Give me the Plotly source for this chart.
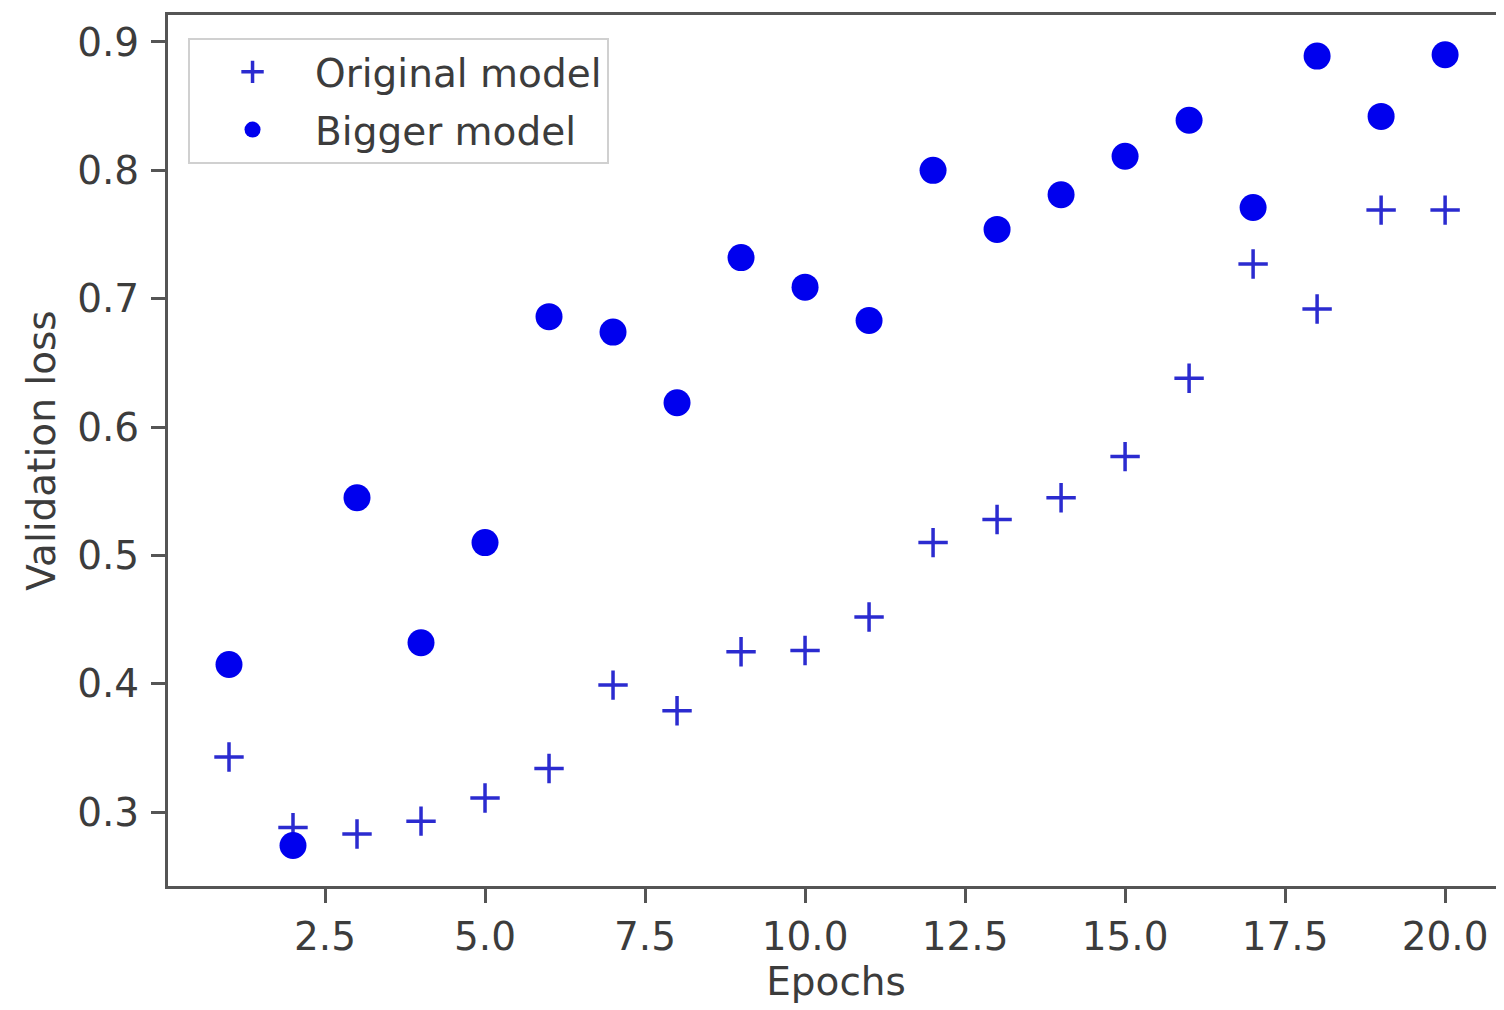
import plotly.graph_objects as go

epochs = list(range(1, 21))
original_loss = [0.343, 0.288, 0.283, 0.293, 0.311, 0.334, 0.399, 0.379, 0.425, 0.426,
                 0.452, 0.510, 0.528, 0.545, 0.577, 0.638, 0.727, 0.692, 0.769, 0.769]
bigger_loss = [0.415, 0.274, 0.545, 0.432, 0.510, 0.686, 0.674, 0.619, 0.732, 0.709,
               0.683, 0.800, 0.754, 0.781, 0.811, 0.839, 0.771, 0.889, 0.842, 0.890]
x_ticks = [2.5, 5.0, 7.5, 10.0, 12.5, 15.0, 17.5, 20.0]
y_ticks = [0.3, 0.4, 0.5, 0.6, 0.7, 0.8, 0.9]

FONT = "DejaVu Sans"
TXT = "#3c3c3c"
SPINE = "#555555"
FS = 39

fig = go.Figure()
fig.add_trace(go.Scatter(
    x=epochs, y=original_loss, mode="markers", name="Original model",
    legendgroup="a",
    marker=dict(symbol="cross-thin", size=21, color="#2b2bd0",
                line=dict(width=3.5, color="#2b2bd0")),
))
fig.add_trace(go.Scatter(
    x=epochs, y=bigger_loss, mode="markers", name="Bigger model",
    legendgroup="b",
    marker=dict(symbol="circle", size=27, color="#0000ee", line=dict(width=0)),
))

# page body adds an 8px offset; figure sized/margined to compensate
fig.update_layout(
    width=1496, height=1002,
    margin=dict(l=160, r=0, t=7, b=124),
    paper_bgcolor="white", plot_bgcolor="white",
    font=dict(family=FONT, size=FS, color=TXT),
    showlegend=True,
    legend=dict(
        x=0.015, y=0.9736, xanchor="left", yanchor="top",
        bgcolor="rgba(255,255,255,0.8)", bordercolor="#d0d0d0", borderwidth=2,
        font=dict(family=FONT, size=FS, color=TXT),
        traceorder="grouped", tracegroupgap=4,
        itemsizing="trace", itemwidth=115,
    ),
)
fig.update_xaxes(
    range=[0.047, 20.92], tickvals=x_ticks,
    ticktext=[f"{v:.1f}" for v in x_ticks],
    showgrid=False, zeroline=False,
    showline=True, linecolor=SPINE, linewidth=3, mirror=True,
    ticks="outside", ticklen=14, tickwidth=3, tickcolor=SPINE,
    tickfont=dict(family=FONT, size=FS, color=TXT),
    title=dict(text="Epochs", font=dict(family=FONT, size=FS, color=TXT), standoff=8),
)
fig.update_yaxes(
    range=[0.2425, 0.921], tickvals=y_ticks,
    ticktext=[f"{v:.1f}" for v in y_ticks],
    showgrid=False, zeroline=False,
    showline=True, linecolor=SPINE, linewidth=3, mirror=False,
    ticks="outside", ticklen=14, tickwidth=3, tickcolor=SPINE,
    ticklabelstandoff=4,
    tickfont=dict(family=FONT, size=FS, color=TXT),
    title=dict(text="Validation loss", font=dict(family=FONT, size=FS, color=TXT), standoff=10),
)

fig.write_html("out.html")
